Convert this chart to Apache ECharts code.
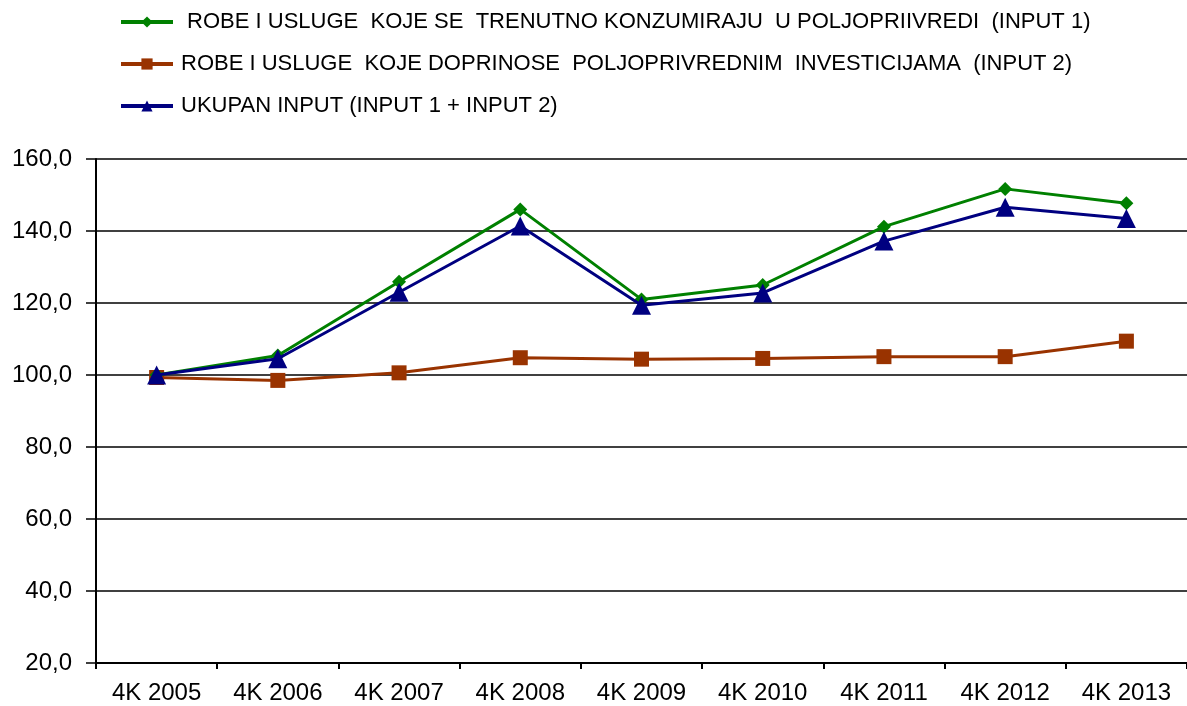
<!DOCTYPE html>
<html>
<head>
<meta charset="utf-8">
<script src="https://cdn.jsdelivr.net/npm/echarts@6/dist/echarts.min.js"></script>
<style>html,body{margin:0;padding:0;background:#fff}#c{width:1187px;height:706px}</style>
</head>
<body>
<div id="c"></div>
<script>
var categories = ['4K 2005','4K 2006','4K 2007','4K 2008','4K 2009','4K 2010','4K 2011','4K 2012','4K 2013'];
var input1 = [100.0, 105.4, 125.9, 146.0, 121.0, 125.0, 141.2, 151.7, 147.7];
var input2 = [99.3, 98.5, 100.6, 104.8, 104.4, 104.6, 105.1, 105.1, 109.4];
var total = [100.0, 104.5, 123.0, 141.4, 119.4, 122.8, 137.2, 146.6, 143.5];
var seriesNames = [
  ' ROBE I USLUGE  KOJE SE  TRENUTNO KONZUMIRAJU  U POLJOPRIIVREDI  (INPUT 1)',
  'ROBE I USLUGE  KOJE DOPRINOSE  POLJOPRIVREDNIM  INVESTICIJAMA  (INPUT 2)',
  'UKUPAN INPUT (INPUT 1 + INPUT 2)'
];
var yTicks = {min: 20, max: 160, interval: 20};

var chart = echarts.init(document.getElementById('c'), null, {renderer: 'canvas'});
var font = 'Liberation Sans, Arial, sans-serif';
chart.setOption({
  animation: false,
  backgroundColor: '#fff',
  textStyle: {fontFamily: font},
  legend: {
    orient: 'vertical',
    left: 119,
    top: 11,
    padding: 0,
    itemWidth: 52,
    itemHeight: 14,
    itemGap: 20,
    lineStyle: {width: 4},
    textStyle: {fontSize: 22, color: '#000', fontFamily: font, padding: [2, 0, 0, 3]},
    data: seriesNames
  },
  grid: {left: 96, right: -1, top: 159, bottom: 43, containLabel: false},
  xAxis: {
    type: 'category',
    data: categories,
    boundaryGap: true,
    axisLine: {lineStyle: {color: '#000', width: 2}},
    axisTick: {show: true, length: 6, lineStyle: {color: '#000', width: 2}},
    axisLabel: {fontSize: 24, color: '#000', margin: 18, fontFamily: font, interval: 0}
  },
  yAxis: {
    type: 'value',
    min: yTicks.min, max: yTicks.max, interval: yTicks.interval,
    axisLine: {show: true, lineStyle: {color: '#000', width: 2}},
    axisTick: {show: true, length: 10, lineStyle: {color: '#000', width: 1.5}},
    axisLabel: {fontSize: 24, color: '#000', margin: 24, fontFamily: font,
      formatter: function (v) { return v.toFixed(1).replace('.', ','); }},
    splitLine: {show: true, lineStyle: {color: '#000', width: 1.5}}
  },
  series: [
    {name: seriesNames[0], type: 'line', data: input1, symbol: 'diamond', symbolSize: 14,
     lineStyle: {color: '#008000', width: 3}, itemStyle: {color: '#008000'}, z: 3},
    {name: seriesNames[1], type: 'line', data: input2, symbol: 'rect', symbolSize: 15,
     lineStyle: {color: '#993300', width: 3}, itemStyle: {color: '#993300'}, z: 2},
    {name: seriesNames[2], type: 'line', data: total, symbol: 'triangle', symbolSize: 19,
     lineStyle: {color: '#000080', width: 3}, itemStyle: {color: '#000080'}, z: 4}
  ]
});
</script>
</body>
</html>
